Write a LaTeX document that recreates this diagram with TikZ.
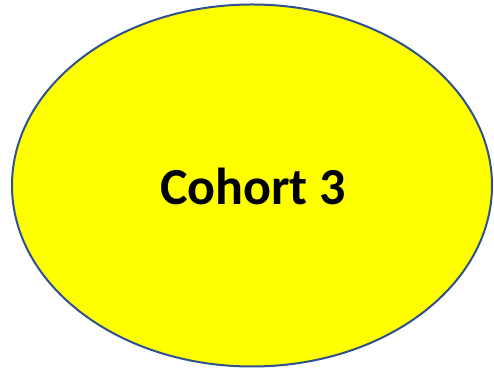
\documentclass[tikz,border=0pt]{standalone}
\usepackage{fontspec}
\setmainfont{Carlito}
\usepackage{tikz}
\usetikzlibrary{shapes.geometric}
\definecolor{cohortyellow}{RGB}{255,255,0}
\definecolor{cohortblue}{RGB}{47,82,143}

\begin{document}
\begin{tikzpicture}[x=1pt,y=1pt]
  \useasboundingbox (0,0) rectangle (494,371);
  \node (cohort) [draw=cohortblue, line width=2pt, fill=cohortyellow, ellipse,
    minimum width=480pt, minimum height=362pt, inner sep=0pt] at (252,185.5) {};
  \node (label) [anchor=base, inner sep=0pt, font=\fontsize{52}{60}\selectfont\bfseries]
    at (253,166) {Cohort 3};
\end{tikzpicture}
\end{document}
